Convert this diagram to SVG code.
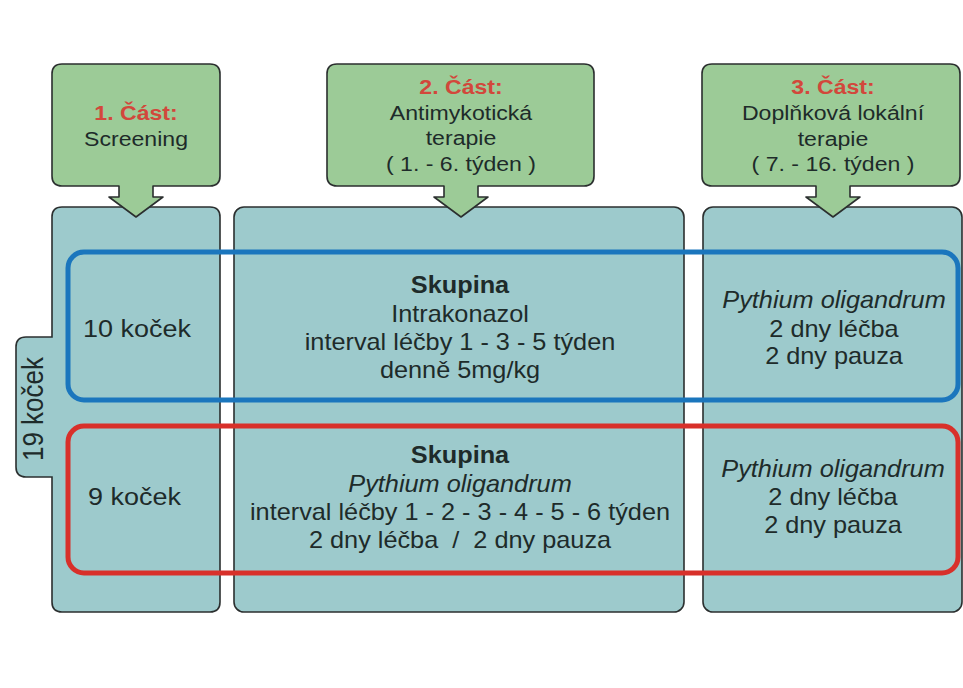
<svg xmlns="http://www.w3.org/2000/svg" width="963" height="688" viewBox="0 0 963 688">
<style>
.col{fill:#9dcacc;stroke:#2b2f2f;stroke-width:1.6}
.hdr{fill:#9ccb97;stroke:#2b2f2f;stroke-width:1.6;stroke-linejoin:round}
.grp{fill:none;stroke-width:5}
text{font-family:"Liberation Sans",Arial,sans-serif;fill:#1e2b2a}
.h{font-size:21px;text-anchor:middle}
.t{font-weight:bold;fill:#d2473b}
.m{font-size:23px;text-anchor:middle}
.b{font-weight:bold}
.i{font-style:italic}
.k{font-size:24.5px}
</style>
<rect width="963" height="688" fill="#ffffff"/>
<g id="col1"><path class="col" d="M62 207H210Q220 207 220 217V602Q220 612 210 612H62Q52 612 52 602V477H26Q16 477 16 467V347Q16 337 26 337H52V217Q52 207 62 207Z"/></g>
<g id="col2"><rect class="col" x="234" y="207" width="450" height="405" rx="10"/></g>
<g id="col3"><rect class="col" x="703" y="207" width="259" height="405" rx="10"/></g>
<g id="part1"><path class="hdr" d="M62 64H210Q220 64 220 74V176Q220 186 210 186H153V197H163L136 217L109 197H119V186H62Q52 186 52 176V74Q52 64 62 64Z"/>
<text class="h t" transform="translate(136 120) scale(1.1 1)">1. Část:</text>
<text class="h" transform="translate(136 146) scale(1.1 1)">Screening</text></g>
<g id="part2"><path class="hdr" d="M337 64H584Q594 64 594 74V176Q594 186 584 186H478V197H488L461 217L434 197H444V186H337Q327 186 327 176V74Q327 64 337 64Z"/>
<text class="h t" transform="translate(461 94) scale(1.1 1)">2. Část:</text>
<text class="h" transform="translate(461 120) scale(1.1 1)">Antimykotická</text>
<text class="h" transform="translate(461 145) scale(1.1 1)">terapie</text>
<text class="h" transform="translate(461 171) scale(1.1 1)">( 1. - 6. týden )</text></g>
<g id="part3"><path class="hdr" d="M712 64H950Q960 64 960 74V176Q960 186 950 186H850V197H860L833 217L806 197H816V186H712Q702 186 702 176V74Q702 64 712 64Z"/>
<text class="h t" transform="translate(833 94) scale(1.1 1)">3. Část:</text>
<text class="h" transform="translate(833 120) scale(1.1 1)">Doplňková lokální</text>
<text class="h" transform="translate(833 146) scale(1.1 1)">terapie</text>
<text class="h" transform="translate(833 171) scale(1.1 1)">( 7. - 16. týden )</text></g>
<g id="total"><text font-size="26px" text-anchor="middle" transform="translate(43 409) scale(1.1 1) rotate(-90)">19 koček</text></g>
<g id="group1"><rect class="grp" x="68" y="252" width="890" height="148" rx="16" stroke="#1b76bd"/>
<text class="k" transform="translate(83 337) scale(1.1 1)">10 koček</text>
<text class="m b" transform="translate(460 293) scale(1.1 1)">Skupina</text>
<text class="m" transform="translate(460 322) scale(1.1 1)">Intrakonazol</text>
<text class="m" transform="translate(460 350) scale(1.1 1)">interval léčby 1 - 3 - 5 týden</text>
<text class="m" transform="translate(460 378) scale(1.1 1)">denně 5mg/kg</text>
<text class="m i" transform="translate(834 308) scale(1.1 1)">Pythium oligandrum</text>
<text class="m" transform="translate(834 337) scale(1.1 1)">2 dny léčba</text>
<text class="m" transform="translate(834 364) scale(1.1 1)">2 dny pauza</text></g>
<g id="group2"><rect class="grp" x="68" y="426" width="890" height="147" rx="16" stroke="#d8302a"/>
<text class="k" transform="translate(88 505) scale(1.1 1)">9 koček</text>
<text class="m b" transform="translate(460 463) scale(1.1 1)">Skupina</text>
<text class="m i" transform="translate(460 492) scale(1.1 1)">Pythium oligandrum</text>
<text class="m" transform="translate(460 520) scale(1.1 1)">interval léčby 1 - 2 - 3 - 4 - 5 - 6 týden</text>
<text class="m" xml:space="preserve" transform="translate(460 548) scale(1.1 1)">2 dny léčba  /  2 dny pauza</text>
<text class="m i" transform="translate(833 477) scale(1.1 1)">Pythium oligandrum</text>
<text class="m" transform="translate(833 505) scale(1.1 1)">2 dny léčba</text>
<text class="m" transform="translate(833 533) scale(1.1 1)">2 dny pauza</text></g>
<g id="connectors"></g>
</svg>
